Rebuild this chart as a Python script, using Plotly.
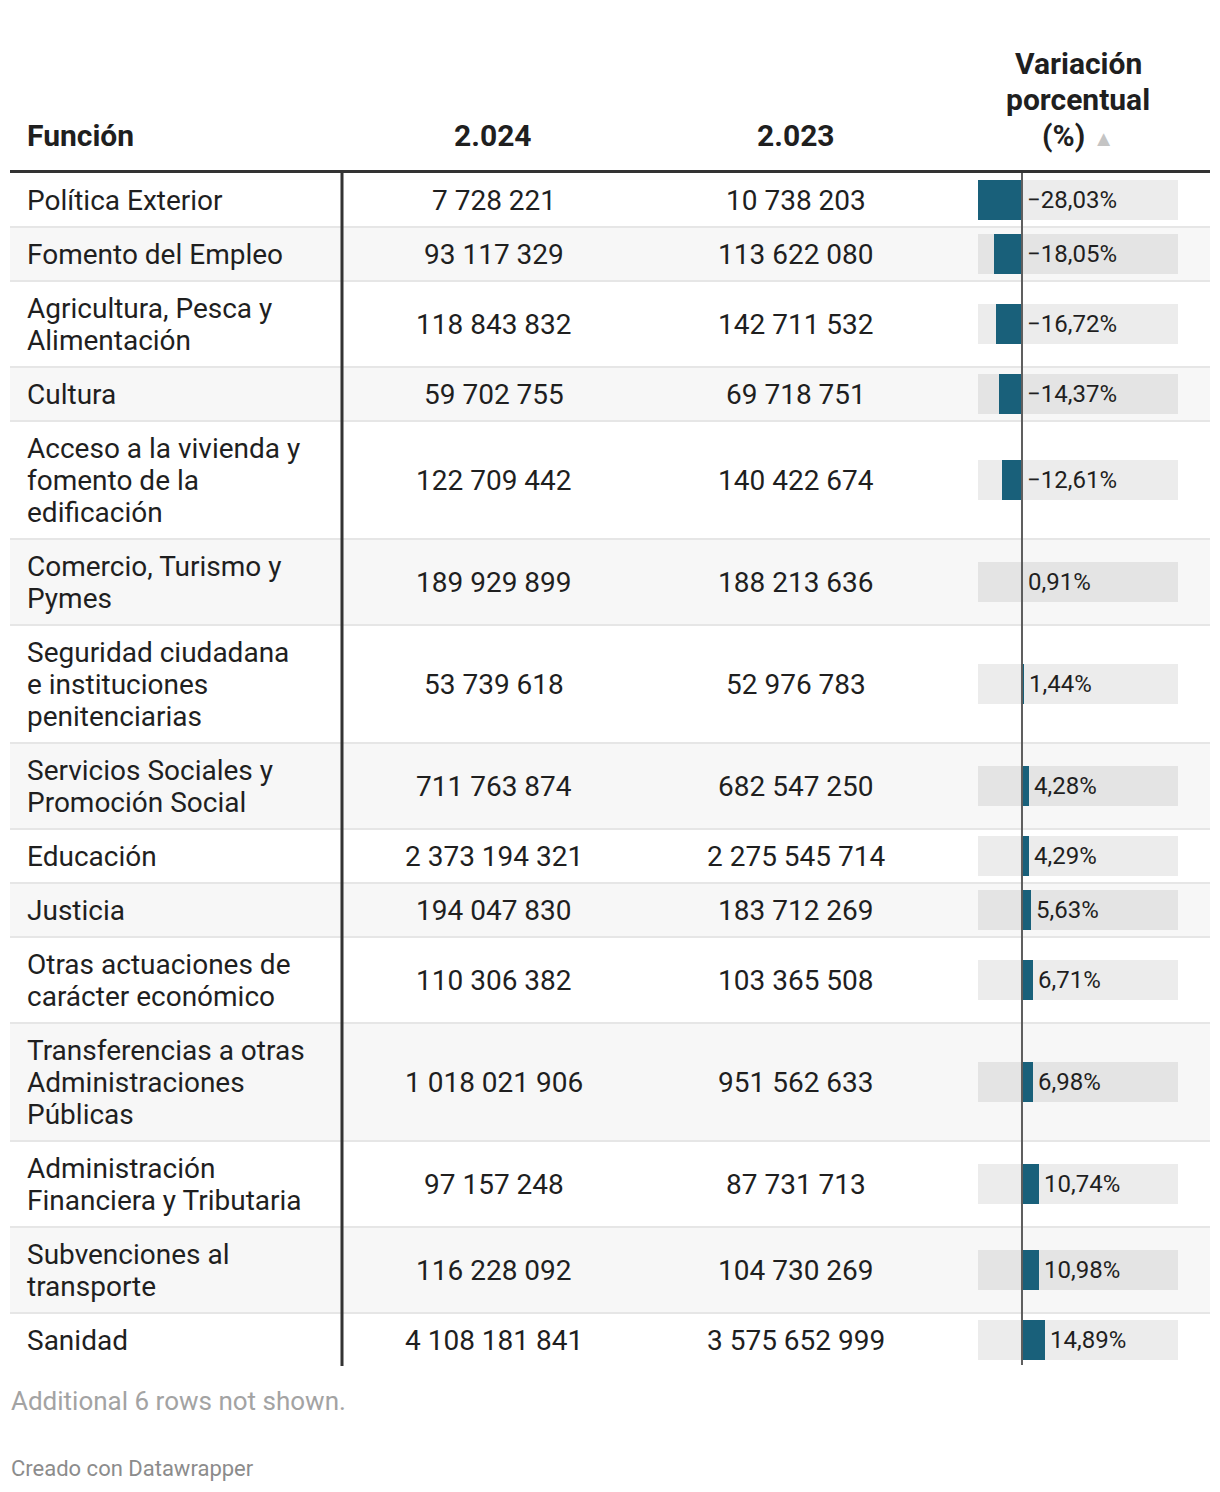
import plotly.graph_objects as go

# ---------------- data ----------------
funciones = [
    "Política Exterior",
    "Fomento del Empleo",
    "Agricultura, Pesca y|Alimentación",
    "Cultura",
    "Acceso a la vivienda y|fomento de la|edificación",
    "Comercio, Turismo y|Pymes",
    "Seguridad ciudadana|e instituciones|penitenciarias",
    "Servicios Sociales y|Promoción Social",
    "Educación",
    "Justicia",
    "Otras actuaciones de|carácter económico",
    "Transferencias a otras|Administraciones|Públicas",
    "Administración|Financiera y Tributaria",
    "Subvenciones al|transporte",
    "Sanidad",
]
v2024 = [7728221, 93117329, 118843832, 59702755, 122709442, 189929899, 53739618,
         711763874, 2373194321, 194047830, 110306382, 1018021906, 97157248,
         116228092, 4108181841]
v2023 = [10738203, 113622080, 142711532, 69718751, 140422674, 188213636, 52976783,
         682547250, 2275545714, 183712269, 103365508, 951562633, 87731713,
         104730269, 3575652999]
variacion = [-28.03, -18.05, -16.72, -14.37, -12.61, 0.91, 1.44, 4.28, 4.29, 5.63,
             6.71, 6.98, 10.74, 10.98, 14.89]
headers = ["Función", "2.024", "2.023"]
var_header = ["Variación", "porcentual", "(%)"]
note = "Additional 6 rows not shown."
credit = "Creado con Datawrapper"
bar_min, bar_max = -28.03, 99.4

# ---------------- layout constants ----------------
PAGE_W, PAGE_H = 1220, 1492
OFF = 8  # default page body margin
W, H = PAGE_W - OFF, PAGE_H - 2 * OFF
FONT = "Roboto"
TXT = "#1f1f1f"
BAR = "#19607a"
LINE_H = 32
TOP = 173
BAR_X0, BAR_X1 = 978, 1178
BODY_SIZE = 28
HEAD_SIZE = 30
PCT_SIZE = 24


def fmt_int(v):
    return f"{v:,}".replace(",", " ")


def fmt_pct(v):
    s = f"{abs(v):.2f}".replace(".", ",") + "%"
    return ("−" + s) if v < 0 else s


rows = []
y = TOP
for f in funciones:
    lines = f.split("|")
    h = 22 + LINE_H * len(lines)
    rows.append((y, h, lines))
    y += h
TABLE_BOTTOM = y

fig = go.Figure()
shapes = []
ann = []

for i, (top, h, lines) in enumerate(rows):
    if i % 2 == 1:
        shapes.append(dict(type="rect", xref="x", yref="y", x0=10, x1=1210, y0=top, y1=top + h,
                           fillcolor="#f7f7f7", line_width=0, layer="below"))
    if i > 0:
        shapes.append(dict(type="line", xref="x", yref="y", x0=10, x1=1210, y0=top, y1=top,
                           line=dict(color="#e6e6e6", width=2), layer="below"))
    for j, ln in enumerate(lines):
        ann.append(dict(x=25, y=top + 11 + LINE_H * j + 16, xref="x", yref="y", text=ln,
                        xanchor="left", yanchor="middle", showarrow=False,
                        font=dict(family=FONT, size=BODY_SIZE, color=TXT)))
    cy = top + h / 2
    ann.append(dict(x=494, y=cy, xref="x", yref="y", text=fmt_int(v2024[i]), xanchor="center",
                    yanchor="middle", showarrow=False,
                    font=dict(family=FONT, size=BODY_SIZE, color=TXT)))
    ann.append(dict(x=796, y=cy, xref="x", yref="y", text=fmt_int(v2023[i]), xanchor="center",
                    yanchor="middle", showarrow=False,
                    font=dict(family=FONT, size=BODY_SIZE, color=TXT)))
    v = variacion[i]
    ann.append(dict(x=max(v, 0), y=cy, xref="x2", yref="y", text=fmt_pct(v), xanchor="left",
                    xshift=3, yanchor="middle", showarrow=False,
                    font=dict(family=FONT, size=PCT_SIZE, color=TXT)))

centers = [top + h / 2 for top, h, _ in rows]

fig.add_trace(go.Bar(x=[bar_max - bar_min] * len(rows), base=[bar_min] * len(rows), y=centers,
                     orientation="h", width=40, marker=dict(color="rgba(0,0,0,0.075)", line_width=0),
                     xaxis="x2", yaxis="y", hoverinfo="skip", showlegend=False))
fig.add_trace(go.Bar(x=variacion, y=centers, orientation="h", width=40,
                     marker=dict(color=BAR, line_width=0), xaxis="x2", yaxis="y",
                     showlegend=False))

shapes.append(dict(type="line", xref="x2", yref="y", x0=0, x1=0, y0=TOP, y1=TABLE_BOTTOM - 2,
                   line=dict(color="#5e5e5e", width=2), layer="above"))
shapes.append(dict(type="line", xref="x", yref="y", x0=10, x1=1210, y0=171.5, y1=171.5,
                   line=dict(color="#333", width=3)))
shapes.append(dict(type="line", xref="x", yref="y", x0=342, x1=342, y0=171, y1=TABLE_BOTTOM - 1,
                   line=dict(color="#333", width=3)))

ann.append(dict(x=25, y=135, xref="x", yref="y", text=f"<b>{headers[0]}</b>", xanchor="left",
                yanchor="middle", showarrow=False, font=dict(family=FONT, size=HEAD_SIZE, color=TXT)))
ann.append(dict(x=493, y=135, xref="x", yref="y", text=f"<b>{headers[1]}</b>", xanchor="center",
                yanchor="middle", showarrow=False, font=dict(family=FONT, size=HEAD_SIZE, color=TXT)))
ann.append(dict(x=796, y=135, xref="x", yref="y", text=f"<b>{headers[2]}</b>", xanchor="center",
                yanchor="middle", showarrow=False, font=dict(family=FONT, size=HEAD_SIZE, color=TXT)))
for j, t in enumerate(var_header):
    txt = f"<b>{t}</b>"
    if j == 2:
        txt += " <span style='color:#c4c4c4;font-size:22px'>▲</span>"
    ann.append(dict(x=1078, y=63 + 36 * j, xref="x", yref="y", text=txt, xanchor="center",
                    yanchor="middle", showarrow=False, font=dict(family=FONT, size=HEAD_SIZE, color=TXT)))

ann.append(dict(x=9, y=1401, xref="x", yref="y", text=note, xanchor="left", yanchor="middle",
                showarrow=False, font=dict(family=FONT, size=26, color="#a3a3a3")))
ann.append(dict(x=9, y=1468, xref="x", yref="y", text=credit, xanchor="left", yanchor="middle",
                showarrow=False, font=dict(family=FONT, size=22, color="#8c8c8c")))

fig.update_layout(
    width=W, height=H, margin=dict(l=0, r=0, t=0, b=0),
    paper_bgcolor="white", plot_bgcolor="rgba(0,0,0,0)",
    barmode="overlay", bargap=0,
    xaxis=dict(range=[OFF, PAGE_W], domain=[0, 1], visible=False, fixedrange=True),
    xaxis2=dict(range=[bar_min, bar_max],
                domain=[(BAR_X0 - OFF) / W, (BAR_X1 - OFF) / W], anchor="y",
                visible=False, fixedrange=True),
    yaxis=dict(range=[PAGE_H - OFF, OFF], domain=[0, 1], visible=False, fixedrange=True),
    shapes=shapes, annotations=ann, showlegend=False,
)

fig.write_html("out.html")
